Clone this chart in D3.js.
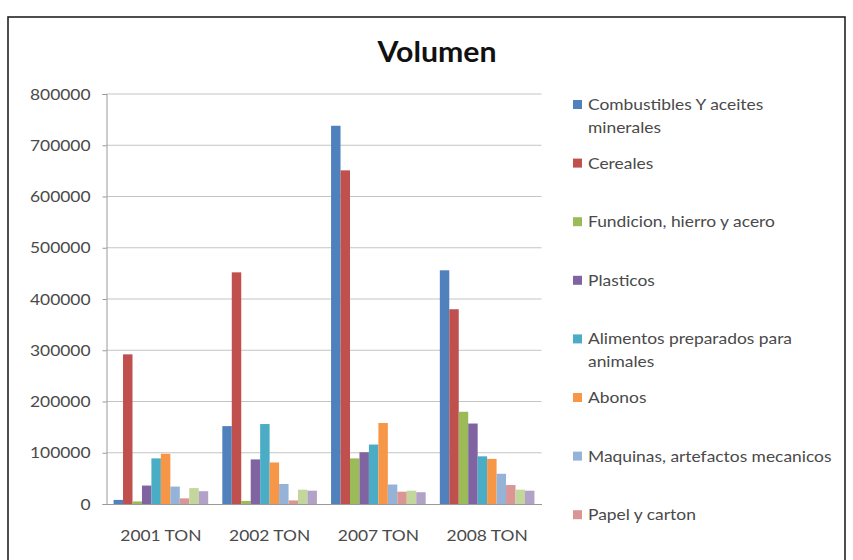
<!DOCTYPE html>
<html>
<head>
<meta charset="utf-8">
<script src="https://cdn.jsdelivr.net/npm/d3@7"></script>
<style>
  html, body { margin: 0; padding: 0; background: #fff; }
  svg { display: block; }
  text { font-family: Lato, "Open Sans", sans-serif; }
</style>
</head>
<body>
<svg id="chart"></svg>
<script>
const categories = ['2001 TON', '2002 TON', '2007 TON', '2008 TON'];
const legendLabels = [
  ['Combustibles Y aceites', 'minerales'],
  ['Cereales'],
  ['Fundicion, hierro y acero'],
  ['Plasticos'],
  ['Alimentos preparados para', 'animales'],
  ['Abonos'],
  ['Maquinas, artefactos mecanicos'],
  ['Papel y carton']
];
// ten series in the bars, the last two legend entries are cut off in the original
const combustibles = [8000, 152000, 738000, 456000];
const cereales     = [292000, 452000, 651000, 380000];
const fundicion    = [5000, 6000, 89000, 180000];
const plasticos    = [36000, 87000, 101000, 157000];
const alimentos    = [89000, 156000, 116000, 93000];
const abonos       = [98000, 81000, 158000, 88000];
const maquinas     = [34000, 39000, 38000, 59000];
const papel        = [11000, 7000, 24000, 37000];
const serie9       = [31000, 28000, 26000, 28000];
const serie10      = [25000, 26000, 23000, 26000];
const series = [combustibles, cereales, fundicion, plasticos, alimentos, abonos, maquinas, papel, serie9, serie10];
const yTicks = [0, 100000, 200000, 300000, 400000, 500000, 600000, 700000, 800000];

const colors = ['#4F81BD','#C0504D','#9BBB59','#8064A2','#4BACC6','#F79646','#95B3D7','#D99694','#C3D69B','#B3A2C7'];

const W = 853, H = 560, SX = 1.2;
const svg = d3.select('#chart').attr('width', W).attr('height', H);

// outer frame
svg.append('rect').attr('x', 8).attr('y', 17).attr('width', 837).attr('height', 560)
  .attr('fill', '#fff').attr('stroke', '#222').attr('stroke-width', 1.6);

const plot = {left: 106.5, right: 541.5, top: 94, bottom: 504};

const x0 = d3.scaleBand().domain(categories).range([plot.left, plot.right]).paddingInner(0.13).paddingOuter(0.065);
const x1 = d3.scaleBand().domain(d3.range(series.length)).range([0, x0.bandwidth()]);
const y = d3.scaleLinear().domain([0, 800000]).range([plot.bottom, plot.top]);

// gridlines
svg.append('g').selectAll('line').data(yTicks.slice(1)).enter().append('line')
  .attr('x1', plot.left).attr('x2', plot.right)
  .attr('y1', d => y(d)).attr('y2', d => y(d))
  .attr('stroke', '#c4c4c4').attr('stroke-width', 1);

// y axis
const yAxis = svg.append('g').attr('transform', 'translate(' + plot.left + ',0)')
  .call(d3.axisLeft(y).tickValues(yTicks).tickFormat(d3.format('d')).tickSize(4).tickPadding(0));
yAxis.select('.domain').attr('stroke', '#999');
yAxis.selectAll('.tick line').attr('stroke', '#999');
yAxis.selectAll('.tick text')
  .attr('x', -16 / SX).attr('dy', '0.36em')
  .attr('transform', 'scale(' + SX + ',1)')
  .attr('fill', '#4a4a4a').style('font-size', '14.5px');

// bars
const groups = svg.append('g').selectAll('g').data(categories).enter().append('g')
  .attr('transform', d => 'translate(' + x0(d) + ',0)');
groups.selectAll('rect').data((c, ci) => series.map((s, si) => ({si, v: s[ci]}))).enter().append('rect')
  .attr('x', d => x1(d.si)).attr('width', x1.bandwidth())
  .attr('y', d => y(d.v)).attr('height', d => y(0) - y(d.v))
  .attr('fill', d => colors[d.si]);

// x axis
const xAxis = svg.append('g').attr('transform', 'translate(0,' + plot.bottom + ')')
  .call(d3.axisBottom(x0).tickSize(0).tickPadding(0));
xAxis.select('.domain').attr('stroke', '#999');
xAxis.selectAll('.tick text').attr('y', 0).attr('dy', 0)
  .attr('transform', 'translate(0,37) scale(' + SX + ',1)')
  .attr('fill', '#4a4a4a').style('font-size', '14.5px');

// title
svg.append('text').attr('transform', 'translate(437,62) scale(1.08,1)')
  .attr('text-anchor', 'middle').attr('font-weight', 'bold')
  .style('font-size', '28px').attr('fill', '#111').text('Volumen');

// legend
const legend = svg.append('g');
const leg = legend.selectAll('g').data(legendLabels).enter().append('g')
  .attr('transform', (d, i) => 'translate(573,' + (110 + i * 58.6) + ')');
leg.append('rect').attr('x', 0).attr('y', -10).attr('width', 9).attr('height', 9)
  .attr('fill', (d, i) => colors[i]);
leg.selectAll('text').data(d => d).enter().append('text')
  .attr('transform', (d, j) => 'translate(15,' + (j * 23) + ') scale(' + SX + ',1)')
  .attr('fill', '#4a4a4a').style('font-size', '14.5px').text(d => d);
</script>
</body>
</html>
